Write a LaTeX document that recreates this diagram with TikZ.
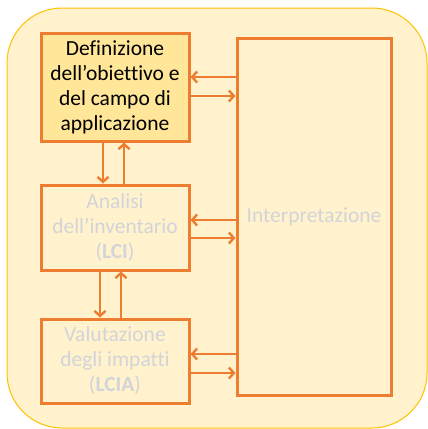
\documentclass[tikz,border=0pt]{standalone}
\usepackage{fontspec}
\setmainfont{Carlito}[Ligatures={NoCommon}]
\usetikzlibrary{arrows.meta,positioning}
\definecolor{framegold}{RGB}{255,192,0}
\definecolor{paleyellow}{RGB}{255,242,204}
\definecolor{stepyellow}{RGB}{255,230,153}
\definecolor{lineorange}{RGB}{237,125,49}
\definecolor{fadegray}{RGB}{210,212,218}

\begin{document}
\begin{tikzpicture}[
  x=1pt, y=-1pt,
  >={Straight Barb[length=5pt,width=11pt,line width=2.4pt]},
  phase/.style={
    rectangle,
    draw=lineorange,
    line width=3pt,
    fill=#1,
    minimum width=148pt,
    align=center,
    font=\fontsize{21.5}{25}\selectfont,
    inner sep=1pt
  },
  arrow/.style={->, line width=2.8pt, draw=lineorange}
]
\useasboundingbox (0,0) rectangle (428,429);

% outer frame
\node[draw=framegold, line width=1pt, fill=paleyellow, rounded corners=55pt,
      minimum width=420pt, minimum height=420pt] (frame) at (217,218) {};

% phases
\node[phase=stepyellow, minimum height=108pt, text=black] (goal) at (115,87)
  {Definizione\\dell’obiettivo e\\del campo di\\applicazione};
\node[phase=paleyellow, minimum height=85pt, text=fadegray] (inventory) at (115,227.5)
  {Analisi\\dell’inventario\\(\textbf{LCI})};
\node[phase=paleyellow, minimum height=84pt, text=fadegray] (impact) at (115,361)
  {Valutazione\\degli impatti\\(\textbf{LCIA})};
\node[phase=paleyellow, minimum width=154pt, minimum height=357pt, text=fadegray] (interp) at (314,216.5)
  {Interpretazione};

% links to interpretation
\draw[arrow] ([yshift=10pt]interp.west |- goal.center) -- ([yshift=10pt]goal.east);
\draw[arrow] ([yshift=-9pt]goal.east) -- ([yshift=-9pt]interp.west |- goal.center);
\draw[arrow] ([yshift=7.5pt]interp.west |- inventory.center) -- ([yshift=7.5pt]inventory.east);
\draw[arrow] ([yshift=-10.5pt]inventory.east) -- ([yshift=-10.5pt]interp.west |- inventory.center);
\draw[arrow] ([yshift=7pt]interp.west |- impact.center) -- ([yshift=7pt]impact.east);
\draw[arrow] ([yshift=-12pt]impact.east) -- ([yshift=-12pt]interp.west |- impact.center);

% links between phases
\draw[arrow] ([xshift=-12pt]goal.south) -- ([xshift=-12pt]inventory.north);
\draw[arrow] ([xshift=9pt]inventory.north) -- ([xshift=9pt]goal.south);
\draw[arrow] ([xshift=-15pt]inventory.south) -- ([xshift=-15pt]impact.north);
\draw[arrow] ([xshift=6pt]impact.north) -- ([xshift=6pt]inventory.south);

\end{tikzpicture}
\end{document}
